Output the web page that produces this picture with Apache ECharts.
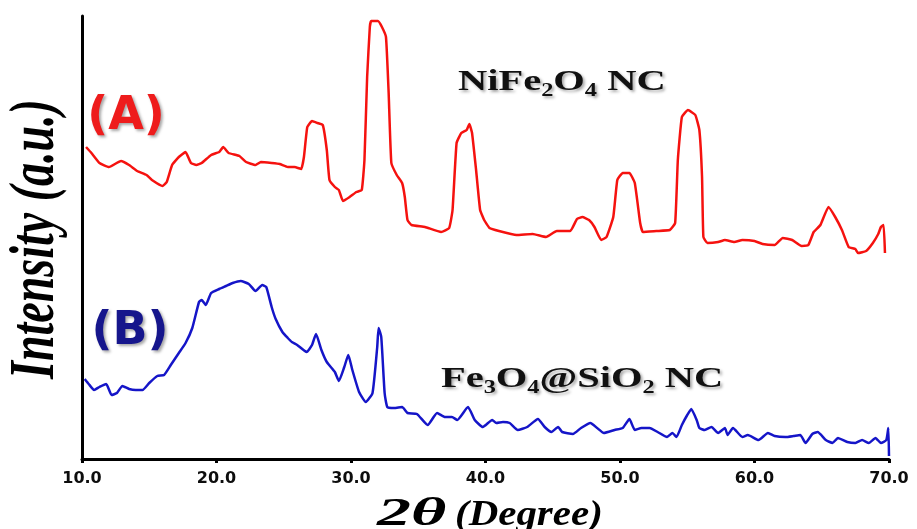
<!DOCTYPE html>
<html>
<head>
<meta charset="utf-8">
<script src="https://cdn.jsdelivr.net/npm/echarts@6/dist/echarts.min.js"></script>
<style>
  html, body { margin: 0; padding: 0; background: #fff; }
  #main { width: 917px; height: 529px; }
</style>
</head>
<body>
<div id="main"></div>
<script>
// (A) NiFe2O4 NC 的衍射曲线
const thetaA = [10.3, 10.7, 11.3, 12.0, 12.9, 13.5, 14.1, 14.8, 15.2, 16.0, 16.3, 16.7, 17.2, 17.7, 18.1, 18.5, 18.9, 19.6, 20.2, 20.5,
  20.9, 21.7, 22.2, 22.9, 23.3, 24.1, 24.7, 25.3, 25.8, 26.3, 26.5, 26.75, 27.1, 27.5, 27.9, 28.2, 28.4, 28.8, 29.1, 29.4,
  29.9, 30.4, 30.8, 31.0, 31.2, 31.4, 31.5, 32.0, 32.3, 32.6, 32.8, 33.0, 33.4, 33.8, 34.0, 34.2, 34.5, 35.5, 36.7, 37.3,
  37.55, 37.85, 38.2, 38.6, 38.8, 39.0, 39.3, 39.6, 39.9, 40.3, 41.0, 42.3, 43.5, 44.5, 45.3, 46.3, 46.8, 47.2, 47.7, 48.1,
  48.6, 49.0, 49.5, 49.8, 50.2, 50.7, 51.1, 51.5, 51.7, 52.7, 53.7, 54.1, 54.3, 54.6, 55.05, 55.6, 55.9, 56.1, 56.2, 56.5,
  57.3, 57.8, 58.5, 59.1, 60.0, 60.6, 61.5, 62.1, 62.8, 63.5, 64.0, 64.4, 64.9, 65.5, 66.0, 66.5, 67.0, 67.5, 67.7, 68.3,
  68.8, 69.2, 69.4, 69.6, 69.7]
const intensityA = [312, 306, 296, 292, 298, 294, 288, 284, 279, 273, 277, 294, 302, 307, 296, 294, 296, 304, 307, 312,
  306, 303, 297, 294, 297, 296, 295, 292, 292, 290, 302, 332, 338, 336, 334, 309, 279, 272, 269, 258,
  262, 267, 269, 299, 382, 432, 438, 438, 432, 422, 366, 296, 284, 276, 262, 239, 234, 232, 227, 231,
  249, 316, 326, 329, 335, 326, 289, 249, 239, 231, 228, 224, 225, 222, 228, 228, 240, 242, 239, 232,
  219, 222, 242, 279, 286, 286, 276, 236, 227, 228, 229, 236, 299, 342, 349, 344, 329, 282, 222, 216,
  217, 219, 217, 219, 218, 215, 214, 221, 219, 213, 214, 227, 234, 252, 242, 229, 212, 210, 206, 208,
  216, 225, 232, 234, 206]

// (B) Fe3O4@SiO2 NC 的衍射曲线
const thetaB = [10.2, 10.5, 10.9, 11.3, 11.8, 12.2, 12.6, 13.0, 13.5, 14.0, 14.5, 15.0, 15.6, 16.1, 16.6, 17.2, 17.7, 18.2, 18.7, 18.9,
  19.2, 19.6, 20.2, 20.7, 21.2, 21.8, 22.4, 22.9, 23.4, 23.7, 24.1, 24.4, 24.9, 25.3, 25.6, 26.0, 26.7, 27.1, 27.4, 27.8,
  28.2, 28.8, 29.1, 29.5, 29.8, 30.1, 30.6, 31.1, 31.6, 31.95, 32.05, 32.25, 32.5, 32.7, 33.2, 33.8, 34.2, 34.9, 35.7, 36.4,
  37.0, 37.5, 37.9, 38.7, 39.2, 39.8, 40.5, 40.8, 41.3, 41.8, 42.4, 43.1, 43.9, 44.4, 44.9, 45.4, 45.7, 46.5, 47.1, 47.8,
  48.3, 48.8, 49.6, 50.2, 50.7, 51.1, 51.6, 52.2, 52.8, 53.5, 53.9, 54.2, 54.6, 55.0, 55.3, 55.7, 55.9, 56.3, 56.8, 57.3,
  57.8, 58.0, 58.4, 59.1, 59.5, 60.3, 61.0, 61.5, 62.3, 62.9, 63.4, 63.8, 64.3, 64.7, 65.3, 65.8, 66.2, 66.9, 67.5, 68.0,
  68.5, 69.0, 69.4, 69.8, 69.95, 70.0]
const intensityB = [80, 75, 69, 72, 75, 64, 66, 73, 70, 69, 69, 76, 83, 84, 94, 106, 116, 131, 157, 159,
  154, 166, 170, 173, 176, 178, 175, 168, 174, 172, 152, 140, 127, 121, 117, 114, 107, 114, 125, 109,
  97, 87, 78, 92, 104, 89, 67, 57, 66, 112, 131, 122, 66, 52, 51, 52, 46, 45, 34, 46,
  42, 42, 39, 52, 39, 32, 39, 36, 37, 36, 29, 32, 40, 32, 27, 32, 27, 25, 31, 36,
  31, 26, 29, 31, 40, 29, 31, 31, 27, 22, 26, 22, 34, 44, 50, 39, 31, 29, 32, 26,
  31, 24, 31, 22, 24, 19, 26, 23, 22, 23, 24, 16, 25, 27, 19, 16, 21, 17, 16, 19,
  16, 21, 16, 19, 31, 3]

// 横轴刻度
const xMin = 10
const xMax = 70
const xStep = 10

const chart = echarts.init(document.getElementById('main'))

const serifBold = { fontFamily: 'Liberation Serif', fontWeight: 'bold', fill: '#111' }
const shadow = { textShadowColor: 'rgba(0,0,0,0.35)', textShadowBlur: 3, textShadowOffsetX: 2, textShadowOffsetY: 2 }

const option = {
  backgroundColor: '#fff',
  animation: false,
  grid: { left: 82, right: 28, top: 16, bottom: 70 },
  xAxis: {
    type: 'value',
    min: xMin,
    max: xMax,
    interval: xStep,
    axisLine: { lineStyle: { color: '#000', width: 3 } },
    axisTick: { length: 4, lineStyle: { color: '#000', width: 3 } },
    splitLine: { show: false },
    axisLabel: {
      margin: 12,
      color: '#0d0d0d',
      fontFamily: 'DejaVu Sans',
      fontWeight: 'bold',
      fontSize: 16,
      formatter: (v) => v.toFixed(1)
    }
  },
  yAxis: {
    type: 'value',
    min: 0,
    max: 443,
    axisLine: { show: true, lineStyle: { color: '#000', width: 3 } },
    axisTick: { show: false },
    axisLabel: { show: false },
    splitLine: { show: false }
  },
  series: [
    {
      name: 'NiFe2O4 NC',
      type: 'line',
      showSymbol: false,
      smooth: 0.12,
      lineStyle: { color: '#f5120f', width: 2.5 },
      data: thetaA.map((t, i) => [t, intensityA[i]])
    },
    {
      name: 'Fe3O4@SiO2 NC',
      type: 'line',
      showSymbol: false,
      smooth: 0.15,
      lineStyle: { color: '#1515c8', width: 2.5 },
      data: thetaB.map((t, i) => [t, intensityB[i]])
    }
  ],
  graphic: [
    // 纵轴标题
    {
      type: 'text',
      x: 36,
      y: 239,
      rotation: Math.PI / 2,
      scaleY: 1.4,
      style: {
        text: 'Intensity (a.u.)',
        fontFamily: 'Liberation Serif',
        fontStyle: 'italic',
        fontWeight: 'bold',
        fontSize: 46,
        fill: '#000',
        align: 'center',
        verticalAlign: 'middle'
      }
    },
    // 横轴标题
    {
      type: 'text',
      x: 377,
      y: 515,
      scaleX: 1.7,
      style: {
        text: '2θ',
        fontFamily: 'Liberation Serif',
        fontStyle: 'italic',
        fontWeight: 'bold',
        fontSize: 40,
        fill: '#000',
        align: 'left',
        verticalAlign: 'middle'
      }
    },
    {
      type: 'text',
      x: 455,
      y: 516,
      scaleX: 1.17,
      style: {
        text: '(Degree)',
        fontFamily: 'Liberation Serif',
        fontStyle: 'italic',
        fontWeight: 'bold',
        fontSize: 35,
        fill: '#000',
        align: 'left',
        verticalAlign: 'middle'
      }
    },
    // 曲线标记
    {
      type: 'text',
      x: 126,
      y: 117,
      style: Object.assign({
        text: '(A)',
        fontFamily: 'DejaVu Sans',
        fontWeight: 'bold',
        fontSize: 46,
        fill: '#ee1c1c',
        align: 'center',
        verticalAlign: 'middle'
      }, shadow)
    },
    {
      type: 'text',
      x: 130,
      y: 332,
      style: Object.assign({
        text: '(B)',
        fontFamily: 'DejaVu Sans',
        fontWeight: 'bold',
        fontSize: 46,
        fill: '#16168c',
        align: 'center',
        verticalAlign: 'middle'
      }, shadow)
    },
    {
      type: 'text',
      x: 458,
      y: 82,
      scaleX: 1.35,
      style: Object.assign({
        text: '{a|NiFe}{s|2}{a|O}{s|4}{a| NC}',
        align: 'left',
        verticalAlign: 'middle',
        rich: {
          a: Object.assign({ fontSize: 30, lineHeight: 36 }, serifBold),
          s: Object.assign({ fontSize: 18, lineHeight: 18, verticalAlign: 'bottom' }, serifBold)
        }
      }, shadow)
    },
    {
      type: 'text',
      x: 441,
      y: 379,
      scaleX: 1.35,
      style: Object.assign({
        text: '{a|Fe}{s|3}{a|O}{s|4}{a|@SiO}{s|2}{a| NC}',
        align: 'left',
        verticalAlign: 'middle',
        rich: {
          a: Object.assign({ fontSize: 30, lineHeight: 36 }, serifBold),
          s: Object.assign({ fontSize: 18, lineHeight: 18, verticalAlign: 'bottom' }, serifBold)
        }
      }, shadow)
    }
  ]
}

chart.setOption(option)
</script>
</body>
</html>
